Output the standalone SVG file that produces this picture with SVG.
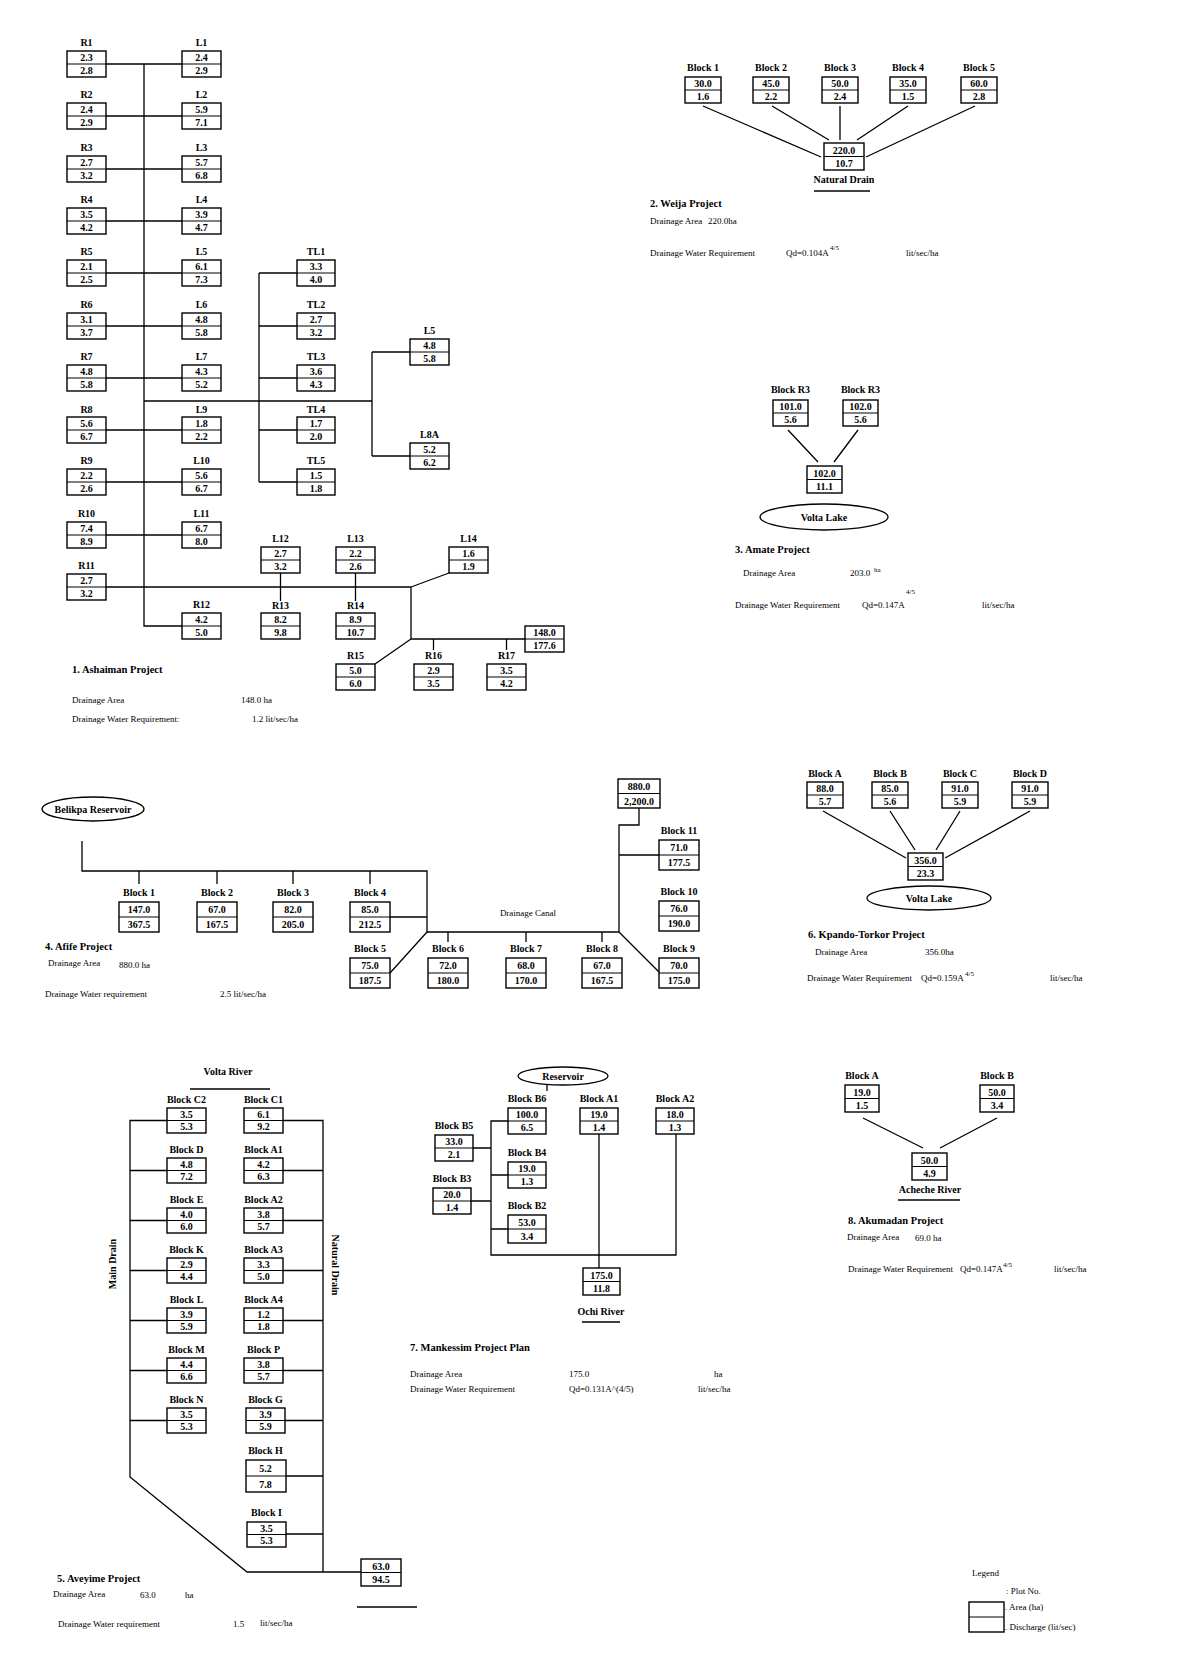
<svg xmlns="http://www.w3.org/2000/svg" width="1184" height="1672" viewBox="0 0 1184 1672">
<style>
.bx{fill:#fff;stroke:#000;stroke-width:1.4}
.dv{stroke:#000;stroke-width:1}
.v{font-family:"Liberation Serif",serif;font-size:10px;font-weight:bold;text-anchor:middle}
.lb{font-family:"Liberation Serif",serif;font-size:10px;font-weight:bold;text-anchor:middle}
.t{font-family:"Liberation Serif",serif;font-size:9px}
.tt{font-family:"Liberation Serif",serif;font-size:10.5px;font-weight:bold}
.c{text-anchor:middle}
.sup{font-family:"Liberation Serif",serif;font-size:7px}
.ln{stroke:#000;stroke-width:1.3;fill:none}
.el{fill:#fff;stroke:#000;stroke-width:1.3}
</style>
<rect width="1184" height="1672" fill="#fff"/>

<g id="connectors">
<!-- Ashaiman -->
<path class="ln" d="M144 64V626H182"/>
<path class="ln" d="M106 64H182M106 116H182M106 169H182M106 221H182M106 273H182M106 326H182M106 378H182M106 430H182M106 482H182M106 535H182"/>
<path class="ln" d="M106 587H411"/>
<path class="ln" d="M259 273V482M259 273H297M259 326H297M259 378H297M259 430H297M259 482H297"/>
<path class="ln" d="M144 401H372M372 352V456M372 352H410M372 456H410"/>
<path class="ln" d="M280.5 573V601M355.5 573V601"/>
<path class="ln" d="M411 587L449 573M411 587V639H525M433.5 639V650M506.5 639V650M411 639L375 664"/>
<!-- Weija -->
<path class="ln" d="M703 106L821 157M772 106L829 140M840 106V140M908 106L857 140M975 106L866 157"/>
<path class="ln" d="M814 191H870"/>
<!-- Amate -->
<path class="ln" d="M788 430L818 462M858 430L834 462"/>
<!-- Afife -->
<path class="ln" d="M82 841V871H427V932H619V825H639V808"/>
<path class="ln" d="M139 871V884M217 871V884M293 871V884M370 871V884M390 917H427M390 973L427 932"/>
<path class="ln" d="M448 932V942M526 932V942M602 932V942M619 932L659 972M619 855H659"/>
<!-- Kpando -->
<path class="ln" d="M823 811L906 858M890 811L915 850M960 811L936 850M1030 811L945 858"/>
<!-- Aveyime -->
<path class="ln" d="M167 1120.5H130V1477L247 1572H361"/>
<path class="ln" d="M130 1170.5H167M130 1220.5H167M130 1270.5H167M130 1320.5H167M130 1370.5H167M130 1420.5H167"/>
<path class="ln" d="M283 1120.5H323V1572M283 1170.5H323M283 1220.5H323M283 1270.5H323M283 1320.5H323M283 1370.5H323M285 1420.5H323M286 1476H323M286 1534H323"/>
<path class="ln" d="M190 1089H270M357 1607H417"/>
<!-- Mankessim -->
<path class="ln" d="M547 1085V1091M508 1121H491V1255H676V1134M473 1148H491M491 1175H508M471 1201H491M491 1229H508M599 1134V1268"/>
<path class="ln" d="M582 1322H620"/>
<!-- Akumadan -->
<path class="ln" d="M863 1118L923 1148M997 1118L940 1148M898 1200H960"/>
</g>

<!-- ===== 1. Ashaiman ===== -->
<g id="R1"><text class="lb" x="86.5" y="46">R1</text><rect class="bx" x="67" y="51" width="39" height="26"/><line class="dv" x1="67" y1="64" x2="106" y2="64"/><text class="v" x="86.5" y="61">2.3</text><text class="v" x="86.5" y="73.5">2.8</text></g>
<g id="L1"><text class="lb" x="201.5" y="46">L1</text><rect class="bx" x="182" y="51" width="39" height="26"/><line class="dv" x1="182" y1="64" x2="221" y2="64"/><text class="v" x="201.5" y="61">2.4</text><text class="v" x="201.5" y="73.5">2.9</text></g>
<g id="R2"><text class="lb" x="86.5" y="98">R2</text><rect class="bx" x="67" y="103" width="39" height="26"/><line class="dv" x1="67" y1="116" x2="106" y2="116"/><text class="v" x="86.5" y="113">2.4</text><text class="v" x="86.5" y="125.5">2.9</text></g>
<g id="L2"><text class="lb" x="201.5" y="98">L2</text><rect class="bx" x="182" y="103" width="39" height="26"/><line class="dv" x1="182" y1="116" x2="221" y2="116"/><text class="v" x="201.5" y="113">5.9</text><text class="v" x="201.5" y="125.5">7.1</text></g>
<g id="R3"><text class="lb" x="86.5" y="151">R3</text><rect class="bx" x="67" y="156" width="39" height="26"/><line class="dv" x1="67" y1="169" x2="106" y2="169"/><text class="v" x="86.5" y="166">2.7</text><text class="v" x="86.5" y="178.5">3.2</text></g>
<g id="L3"><text class="lb" x="201.5" y="151">L3</text><rect class="bx" x="182" y="156" width="39" height="26"/><line class="dv" x1="182" y1="169" x2="221" y2="169"/><text class="v" x="201.5" y="166">5.7</text><text class="v" x="201.5" y="178.5">6.8</text></g>
<g id="R4"><text class="lb" x="86.5" y="203">R4</text><rect class="bx" x="67" y="208" width="39" height="26"/><line class="dv" x1="67" y1="221" x2="106" y2="221"/><text class="v" x="86.5" y="218">3.5</text><text class="v" x="86.5" y="230.5">4.2</text></g>
<g id="L4"><text class="lb" x="201.5" y="203">L4</text><rect class="bx" x="182" y="208" width="39" height="26"/><line class="dv" x1="182" y1="221" x2="221" y2="221"/><text class="v" x="201.5" y="218">3.9</text><text class="v" x="201.5" y="230.5">4.7</text></g>
<g id="R5"><text class="lb" x="86.5" y="255">R5</text><rect class="bx" x="67" y="260" width="39" height="26"/><line class="dv" x1="67" y1="273" x2="106" y2="273"/><text class="v" x="86.5" y="270">2.1</text><text class="v" x="86.5" y="282.5">2.5</text></g>
<g id="L5"><text class="lb" x="201.5" y="255">L5</text><rect class="bx" x="182" y="260" width="39" height="26"/><line class="dv" x1="182" y1="273" x2="221" y2="273"/><text class="v" x="201.5" y="270">6.1</text><text class="v" x="201.5" y="282.5">7.3</text></g>
<g id="R6"><text class="lb" x="86.5" y="308">R6</text><rect class="bx" x="67" y="313" width="39" height="26"/><line class="dv" x1="67" y1="326" x2="106" y2="326"/><text class="v" x="86.5" y="323">3.1</text><text class="v" x="86.5" y="335.5">3.7</text></g>
<g id="L6"><text class="lb" x="201.5" y="308">L6</text><rect class="bx" x="182" y="313" width="39" height="26"/><line class="dv" x1="182" y1="326" x2="221" y2="326"/><text class="v" x="201.5" y="323">4.8</text><text class="v" x="201.5" y="335.5">5.8</text></g>
<g id="R7"><text class="lb" x="86.5" y="360">R7</text><rect class="bx" x="67" y="365" width="39" height="26"/><line class="dv" x1="67" y1="378" x2="106" y2="378"/><text class="v" x="86.5" y="375">4.8</text><text class="v" x="86.5" y="387.5">5.8</text></g>
<g id="L7"><text class="lb" x="201.5" y="360">L7</text><rect class="bx" x="182" y="365" width="39" height="26"/><line class="dv" x1="182" y1="378" x2="221" y2="378"/><text class="v" x="201.5" y="375">4.3</text><text class="v" x="201.5" y="387.5">5.2</text></g>
<g id="R8"><text class="lb" x="86.5" y="413">R8</text><rect class="bx" x="67" y="417" width="39" height="26"/><line class="dv" x1="67" y1="430" x2="106" y2="430"/><text class="v" x="86.5" y="427">5.6</text><text class="v" x="86.5" y="439.5">6.7</text></g>
<g id="L9"><text class="lb" x="201.5" y="413">L9</text><rect class="bx" x="182" y="417" width="39" height="26"/><line class="dv" x1="182" y1="430" x2="221" y2="430"/><text class="v" x="201.5" y="427">1.8</text><text class="v" x="201.5" y="439.5">2.2</text></g>
<g id="R9"><text class="lb" x="86.5" y="464">R9</text><rect class="bx" x="67" y="469" width="39" height="26"/><line class="dv" x1="67" y1="482" x2="106" y2="482"/><text class="v" x="86.5" y="479">2.2</text><text class="v" x="86.5" y="491.5">2.6</text></g>
<g id="L10"><text class="lb" x="201.5" y="464">L10</text><rect class="bx" x="182" y="469" width="39" height="26"/><line class="dv" x1="182" y1="482" x2="221" y2="482"/><text class="v" x="201.5" y="479">5.6</text><text class="v" x="201.5" y="491.5">6.7</text></g>
<g id="R10"><text class="lb" x="86.5" y="517">R10</text><rect class="bx" x="67" y="522" width="39" height="26"/><line class="dv" x1="67" y1="535" x2="106" y2="535"/><text class="v" x="86.5" y="532">7.4</text><text class="v" x="86.5" y="544.5">8.9</text></g>
<g id="L11"><text class="lb" x="201.5" y="517">L11</text><rect class="bx" x="182" y="522" width="39" height="26"/><line class="dv" x1="182" y1="535" x2="221" y2="535"/><text class="v" x="201.5" y="532">6.7</text><text class="v" x="201.5" y="544.5">8.0</text></g>
<g id="R11"><text class="lb" x="86.5" y="569">R11</text><rect class="bx" x="67" y="574" width="39" height="26"/><line class="dv" x1="67" y1="587" x2="106" y2="587"/><text class="v" x="86.5" y="584">2.7</text><text class="v" x="86.5" y="596.5">3.2</text></g>
<g id="R12"><text class="lb" x="201.5" y="608">R12</text><rect class="bx" x="182" y="613" width="39" height="26"/><line class="dv" x1="182" y1="626" x2="221" y2="626"/><text class="v" x="201.5" y="623">4.2</text><text class="v" x="201.5" y="635.5">5.0</text></g>
<g id="TL1"><text class="lb" x="316" y="255">TL1</text><rect class="bx" x="297" y="260" width="38" height="26"/><line class="dv" x1="297" y1="273" x2="335" y2="273"/><text class="v" x="316" y="270">3.3</text><text class="v" x="316" y="282.5">4.0</text></g>
<g id="TL2"><text class="lb" x="316" y="308">TL2</text><rect class="bx" x="297" y="313" width="38" height="26"/><line class="dv" x1="297" y1="326" x2="335" y2="326"/><text class="v" x="316" y="323">2.7</text><text class="v" x="316" y="335.5">3.2</text></g>
<g id="TL3"><text class="lb" x="316" y="360">TL3</text><rect class="bx" x="297" y="365" width="38" height="26"/><line class="dv" x1="297" y1="378" x2="335" y2="378"/><text class="v" x="316" y="375">3.6</text><text class="v" x="316" y="387.5">4.3</text></g>
<g id="TL4"><text class="lb" x="316" y="413">TL4</text><rect class="bx" x="297" y="417" width="38" height="26"/><line class="dv" x1="297" y1="430" x2="335" y2="430"/><text class="v" x="316" y="427">1.7</text><text class="v" x="316" y="439.5">2.0</text></g>
<g id="TL5"><text class="lb" x="316" y="464">TL5</text><rect class="bx" x="297" y="469" width="38" height="26"/><line class="dv" x1="297" y1="482" x2="335" y2="482"/><text class="v" x="316" y="479">1.5</text><text class="v" x="316" y="491.5">1.8</text></g>
<g id="L5b"><text class="lb" x="429.5" y="334">L5</text><rect class="bx" x="410" y="339" width="39" height="26"/><line class="dv" x1="410" y1="352" x2="449" y2="352"/><text class="v" x="429.5" y="349">4.8</text><text class="v" x="429.5" y="361.5">5.8</text></g>
<g id="L8A"><text class="lb" x="429.5" y="438">L8A</text><rect class="bx" x="410" y="443" width="39" height="26"/><line class="dv" x1="410" y1="456" x2="449" y2="456"/><text class="v" x="429.5" y="453">5.2</text><text class="v" x="429.5" y="465.5">6.2</text></g>
<g id="L12"><text class="lb" x="280.5" y="542">L12</text><rect class="bx" x="261" y="547" width="39" height="26"/><line class="dv" x1="261" y1="560" x2="300" y2="560"/><text class="v" x="280.5" y="557">2.7</text><text class="v" x="280.5" y="569.5">3.2</text></g>
<g id="L13"><text class="lb" x="355.5" y="542">L13</text><rect class="bx" x="336" y="547" width="39" height="26"/><line class="dv" x1="336" y1="560" x2="375" y2="560"/><text class="v" x="355.5" y="557">2.2</text><text class="v" x="355.5" y="569.5">2.6</text></g>
<g id="L14"><text class="lb" x="468.5" y="542">L14</text><rect class="bx" x="449" y="547" width="39" height="26"/><line class="dv" x1="449" y1="560" x2="488" y2="560"/><text class="v" x="468.5" y="557">1.6</text><text class="v" x="468.5" y="569.5">1.9</text></g>
<g id="R13"><text class="lb" x="280.5" y="609">R13</text><rect class="bx" x="261" y="613" width="39" height="26"/><line class="dv" x1="261" y1="626" x2="300" y2="626"/><text class="v" x="280.5" y="623">8.2</text><text class="v" x="280.5" y="635.5">9.8</text></g>
<g id="R14"><text class="lb" x="355.5" y="609">R14</text><rect class="bx" x="336" y="613" width="39" height="26"/><line class="dv" x1="336" y1="626" x2="375" y2="626"/><text class="v" x="355.5" y="623">8.9</text><text class="v" x="355.5" y="635.5">10.7</text></g>
<g id="R15"><text class="lb" x="355.5" y="659">R15</text><rect class="bx" x="336" y="664" width="39" height="26"/><line class="dv" x1="336" y1="677" x2="375" y2="677"/><text class="v" x="355.5" y="674">5.0</text><text class="v" x="355.5" y="686.5">6.0</text></g>
<g id="R16"><text class="lb" x="433.5" y="659">R16</text><rect class="bx" x="414" y="664" width="39" height="26"/><line class="dv" x1="414" y1="677" x2="453" y2="677"/><text class="v" x="433.5" y="674">2.9</text><text class="v" x="433.5" y="686.5">3.5</text></g>
<g id="R17"><text class="lb" x="506.5" y="659">R17</text><rect class="bx" x="487" y="664" width="39" height="26"/><line class="dv" x1="487" y1="677" x2="526" y2="677"/><text class="v" x="506.5" y="674">3.5</text><text class="v" x="506.5" y="686.5">4.2</text></g>
<g id="A148"><rect class="bx" x="525" y="626" width="39" height="26"/><line class="dv" x1="525" y1="639" x2="564" y2="639"/><text class="v" x="544.5" y="636">148.0</text><text class="v" x="544.5" y="648.5">177.6</text></g>
<g id="ashaiman-text">
<text class="tt" x="72" y="673">1. Ashaiman Project</text>
<text class="t" x="72" y="703">Drainage Area</text><text class="t" x="241" y="703">148.0 ha</text>
<text class="t" x="72" y="722">Drainage Water Requirement:</text><text class="t" x="252" y="722">1.2  lit/sec/ha</text>
</g>

<!-- ===== 2. Weija ===== -->
<g id="W1"><text class="lb" x="703" y="71">Block 1</text><rect class="bx" x="685" y="77" width="36" height="26"/><line class="dv" x1="685" y1="90" x2="721" y2="90"/><text class="v" x="703" y="87">30.0</text><text class="v" x="703" y="99.5">1.6</text></g>
<g id="W2"><text class="lb" x="771" y="71">Block 2</text><rect class="bx" x="753" y="77" width="36" height="26"/><line class="dv" x1="753" y1="90" x2="789" y2="90"/><text class="v" x="771" y="87">45.0</text><text class="v" x="771" y="99.5">2.2</text></g>
<g id="W3"><text class="lb" x="840" y="71">Block 3</text><rect class="bx" x="822" y="77" width="36" height="26"/><line class="dv" x1="822" y1="90" x2="858" y2="90"/><text class="v" x="840" y="87">50.0</text><text class="v" x="840" y="99.5">2.4</text></g>
<g id="W4"><text class="lb" x="908" y="71">Block 4</text><rect class="bx" x="890" y="77" width="36" height="26"/><line class="dv" x1="890" y1="90" x2="926" y2="90"/><text class="v" x="908" y="87">35.0</text><text class="v" x="908" y="99.5">1.5</text></g>
<g id="W5"><text class="lb" x="979" y="71">Block 5</text><rect class="bx" x="961" y="77" width="36" height="26"/><line class="dv" x1="961" y1="90" x2="997" y2="90"/><text class="v" x="979" y="87">60.0</text><text class="v" x="979" y="99.5">2.8</text></g>
<g id="W0"><rect class="bx" x="824" y="143" width="40" height="27"/><line class="dv" x1="824" y1="156.5" x2="864" y2="156.5"/><text class="v" x="844" y="153.5">220.0</text><text class="v" x="844" y="167">10.7</text><text class="lb" x="844" y="183">Natural Drain</text></g>
<g id="weija-text">
<text class="tt" x="650" y="207">2. Weija Project</text>
<text class="t" x="650" y="224">Drainage Area</text><text class="t" x="708" y="224">220.0ha</text>
<text class="t" x="650" y="256">Drainage Water Requirement</text><text class="t" x="786" y="256">Qd=0.104A</text><text class="sup" x="830" y="250">4/5</text><text class="t" x="906" y="256">lit/sec/ha</text>
</g>

<!-- ===== 3. Amate ===== -->
<g id="AM1"><text class="lb" x="790.5" y="393">Block R3</text><rect class="bx" x="773" y="400" width="35" height="26"/><line class="dv" x1="773" y1="413" x2="808" y2="413"/><text class="v" x="790.5" y="410">101.0</text><text class="v" x="790.5" y="422.5">5.6</text></g>
<g id="AM2"><text class="lb" x="860.5" y="393">Block R3</text><rect class="bx" x="843" y="400" width="35" height="26"/><line class="dv" x1="843" y1="413" x2="878" y2="413"/><text class="v" x="860.5" y="410">102.0</text><text class="v" x="860.5" y="422.5">5.6</text></g>
<g id="AM0"><rect class="bx" x="807" y="466" width="35" height="27"/><line class="dv" x1="807" y1="479.5" x2="842" y2="479.5"/><text class="v" x="824.5" y="476.5">102.0</text><text class="v" x="824.5" y="490">11.1</text></g>
<g id="volta-lake-1"><ellipse class="el" cx="824" cy="517" rx="64" ry="13"/><text class="lb" x="824" y="520.5">Volta Lake</text></g>
<g id="amate-text">
<text class="tt" x="735" y="553">3. Amate Project</text>
<text class="t" x="743" y="576">Drainage Area</text><text class="t" x="850" y="576">203.0</text><text class="sup" x="874" y="572">ha</text>
<text class="t" x="735" y="608">Drainage Water Requirement</text><text class="t" x="862" y="608">Qd=0.147A</text><text class="sup" x="906" y="594">4/5</text><text class="t" x="982" y="608">lit/sec/ha</text>
</g>

<!-- ===== 4. Afife ===== -->
<g id="belikpa"><ellipse class="el" cx="93" cy="809" rx="51" ry="12"/><text class="lb" x="93" y="812.5">Belikpa Reservoir</text></g>
<g id="AF1"><text class="lb" x="139" y="896">Block 1</text><rect class="bx" x="119" y="902" width="40" height="30"/><line class="dv" x1="119" y1="917" x2="159" y2="917"/><text class="v" x="139" y="913">147.0</text><text class="v" x="139" y="928">367.5</text></g>
<g id="AF2"><text class="lb" x="217" y="896">Block 2</text><rect class="bx" x="197" y="902" width="40" height="30"/><line class="dv" x1="197" y1="917" x2="237" y2="917"/><text class="v" x="217" y="913">67.0</text><text class="v" x="217" y="928">167.5</text></g>
<g id="AF3"><text class="lb" x="293" y="896">Block 3</text><rect class="bx" x="273" y="902" width="40" height="30"/><line class="dv" x1="273" y1="917" x2="313" y2="917"/><text class="v" x="293" y="913">82.0</text><text class="v" x="293" y="928">205.0</text></g>
<g id="AF4"><text class="lb" x="370" y="896">Block 4</text><rect class="bx" x="350" y="902" width="40" height="30"/><line class="dv" x1="350" y1="917" x2="390" y2="917"/><text class="v" x="370" y="913">85.0</text><text class="v" x="370" y="928">212.5</text></g>
<g id="AF5"><text class="lb" x="370" y="952">Block 5</text><rect class="bx" x="350" y="958" width="40" height="30"/><line class="dv" x1="350" y1="973" x2="390" y2="973"/><text class="v" x="370" y="969">75.0</text><text class="v" x="370" y="984">187.5</text></g>
<g id="AF6"><text class="lb" x="448" y="952">Block 6</text><rect class="bx" x="428" y="958" width="40" height="30"/><line class="dv" x1="428" y1="973" x2="468" y2="973"/><text class="v" x="448" y="969">72.0</text><text class="v" x="448" y="984">180.0</text></g>
<g id="AF7"><text class="lb" x="526" y="952">Block 7</text><rect class="bx" x="506" y="958" width="40" height="30"/><line class="dv" x1="506" y1="973" x2="546" y2="973"/><text class="v" x="526" y="969">68.0</text><text class="v" x="526" y="984">170.0</text></g>
<g id="AF8"><text class="lb" x="602" y="952">Block 8</text><rect class="bx" x="582" y="958" width="40" height="30"/><line class="dv" x1="582" y1="973" x2="622" y2="973"/><text class="v" x="602" y="969">67.0</text><text class="v" x="602" y="984">167.5</text></g>
<g id="AF9"><text class="lb" x="679" y="952">Block 9</text><rect class="bx" x="659" y="958" width="40" height="30"/><line class="dv" x1="659" y1="973" x2="699" y2="973"/><text class="v" x="679" y="969">70.0</text><text class="v" x="679" y="984">175.0</text></g>
<g id="AF10"><text class="lb" x="679" y="895">Block 10</text><rect class="bx" x="659" y="901" width="40" height="30"/><line class="dv" x1="659" y1="916" x2="699" y2="916"/><text class="v" x="679" y="912">76.0</text><text class="v" x="679" y="927">190.0</text></g>
<g id="AF11"><text class="lb" x="679" y="834">Block 11</text><rect class="bx" x="659" y="840" width="40" height="30"/><line class="dv" x1="659" y1="855" x2="699" y2="855"/><text class="v" x="679" y="851">71.0</text><text class="v" x="679" y="866">177.5</text></g>
<g id="AF0"><rect class="bx" x="618" y="779" width="42" height="29"/><line class="dv" x1="618" y1="793.5" x2="660" y2="793.5"/><text class="v" x="639" y="790">880.0</text><text class="v" x="639" y="804.5">2,200.0</text></g>
<g id="afife-text">
<text class="t c" x="528" y="916">Drainage Canal</text>
<text class="tt" x="45" y="950">4. Afife Project</text>
<text class="t" x="48" y="966">Drainage Area</text><text class="t" x="119" y="968">880.0  ha</text>
<text class="t" x="45" y="997">Drainage Water requirement</text><text class="t" x="220" y="997">2.5  lit/sec/ha</text>
</g>

<!-- ===== 6. Kpando-Torkor ===== -->
<g id="KA"><text class="lb" x="825" y="777">Block A</text><rect class="bx" x="807" y="782" width="36" height="26"/><line class="dv" x1="807" y1="795" x2="843" y2="795"/><text class="v" x="825" y="792">88.0</text><text class="v" x="825" y="804.5">5.7</text></g>
<g id="KB"><text class="lb" x="890" y="777">Block B</text><rect class="bx" x="872" y="782" width="36" height="26"/><line class="dv" x1="872" y1="795" x2="908" y2="795"/><text class="v" x="890" y="792">85.0</text><text class="v" x="890" y="804.5">5.6</text></g>
<g id="KC"><text class="lb" x="960" y="777">Block C</text><rect class="bx" x="942" y="782" width="36" height="26"/><line class="dv" x1="942" y1="795" x2="978" y2="795"/><text class="v" x="960" y="792">91.0</text><text class="v" x="960" y="804.5">5.9</text></g>
<g id="KD"><text class="lb" x="1030" y="777">Block D</text><rect class="bx" x="1012" y="782" width="36" height="26"/><line class="dv" x1="1012" y1="795" x2="1048" y2="795"/><text class="v" x="1030" y="792">91.0</text><text class="v" x="1030" y="804.5">5.9</text></g>
<g id="K0"><rect class="bx" x="908" y="853" width="35" height="27"/><line class="dv" x1="908" y1="866.5" x2="943" y2="866.5"/><text class="v" x="925.5" y="863.5">356.0</text><text class="v" x="925.5" y="877">23.3</text></g>
<g id="volta-lake-2"><ellipse class="el" cx="929" cy="898" rx="62" ry="12"/><text class="lb" x="929" y="901.5">Volta Lake</text></g>
<g id="kpando-text">
<text class="tt" x="808" y="938">6. Kpando-Torkor Project</text>
<text class="t" x="815" y="955">Drainage Area</text><text class="t" x="925" y="955">356.0ha</text>
<text class="t" x="807" y="981">Drainage Water Requirement</text><text class="t" x="921" y="981">Qd=0.159A</text><text class="sup" x="965" y="976">4/5</text><text class="t" x="1050" y="981">lit/sec/ha</text>
</g>

<!-- ===== 5. Aveyime ===== -->
<g id="aveyime-labels">
<text class="lb" x="228" y="1075">Volta River</text>
<text class="lb" transform="translate(116 1264) rotate(-90)">Main Drain</text>
<text class="lb" transform="translate(332 1265) rotate(90)">Natural Drain</text>
</g>
<g id="AVC2"><text class="lb" x="186.5" y="1103">Block C2</text><rect class="bx" x="167" y="1108" width="39" height="25"/><line class="dv" x1="167" y1="1120.5" x2="206" y2="1120.5"/><text class="v" x="186.5" y="1118">3.5</text><text class="v" x="186.5" y="1130">5.3</text></g>
<g id="AVC1"><text class="lb" x="263.5" y="1103">Block C1</text><rect class="bx" x="244" y="1108" width="39" height="25"/><line class="dv" x1="244" y1="1120.5" x2="283" y2="1120.5"/><text class="v" x="263.5" y="1118">6.1</text><text class="v" x="263.5" y="1130">9.2</text></g>
<g id="AVD"><text class="lb" x="186.5" y="1153">Block D</text><rect class="bx" x="167" y="1158" width="39" height="25"/><line class="dv" x1="167" y1="1170.5" x2="206" y2="1170.5"/><text class="v" x="186.5" y="1168">4.8</text><text class="v" x="186.5" y="1180">7.2</text></g>
<g id="AVA1"><text class="lb" x="263.5" y="1153">Block A1</text><rect class="bx" x="244" y="1158" width="39" height="25"/><line class="dv" x1="244" y1="1170.5" x2="283" y2="1170.5"/><text class="v" x="263.5" y="1168">4.2</text><text class="v" x="263.5" y="1180">6.3</text></g>
<g id="AVE"><text class="lb" x="186.5" y="1203">Block E</text><rect class="bx" x="167" y="1208" width="39" height="25"/><line class="dv" x1="167" y1="1220.5" x2="206" y2="1220.5"/><text class="v" x="186.5" y="1218">4.0</text><text class="v" x="186.5" y="1230">6.0</text></g>
<g id="AVA2"><text class="lb" x="263.5" y="1203">Block A2</text><rect class="bx" x="244" y="1208" width="39" height="25"/><line class="dv" x1="244" y1="1220.5" x2="283" y2="1220.5"/><text class="v" x="263.5" y="1218">3.8</text><text class="v" x="263.5" y="1230">5.7</text></g>
<g id="AVK"><text class="lb" x="186.5" y="1253">Block K</text><rect class="bx" x="167" y="1258" width="39" height="25"/><line class="dv" x1="167" y1="1270.5" x2="206" y2="1270.5"/><text class="v" x="186.5" y="1268">2.9</text><text class="v" x="186.5" y="1280">4.4</text></g>
<g id="AVA3"><text class="lb" x="263.5" y="1253">Block A3</text><rect class="bx" x="244" y="1258" width="39" height="25"/><line class="dv" x1="244" y1="1270.5" x2="283" y2="1270.5"/><text class="v" x="263.5" y="1268">3.3</text><text class="v" x="263.5" y="1280">5.0</text></g>
<g id="AVL"><text class="lb" x="186.5" y="1303">Block L</text><rect class="bx" x="167" y="1308" width="39" height="25"/><line class="dv" x1="167" y1="1320.5" x2="206" y2="1320.5"/><text class="v" x="186.5" y="1318">3.9</text><text class="v" x="186.5" y="1330">5.9</text></g>
<g id="AVA4"><text class="lb" x="263.5" y="1303">Block A4</text><rect class="bx" x="244" y="1308" width="39" height="25"/><line class="dv" x1="244" y1="1320.5" x2="283" y2="1320.5"/><text class="v" x="263.5" y="1318">1.2</text><text class="v" x="263.5" y="1330">1.8</text></g>
<g id="AVM"><text class="lb" x="186.5" y="1353">Block M</text><rect class="bx" x="167" y="1358" width="39" height="25"/><line class="dv" x1="167" y1="1370.5" x2="206" y2="1370.5"/><text class="v" x="186.5" y="1368">4.4</text><text class="v" x="186.5" y="1380">6.6</text></g>
<g id="AVP"><text class="lb" x="263.5" y="1353">Block P</text><rect class="bx" x="244" y="1358" width="39" height="25"/><line class="dv" x1="244" y1="1370.5" x2="283" y2="1370.5"/><text class="v" x="263.5" y="1368">3.8</text><text class="v" x="263.5" y="1380">5.7</text></g>
<g id="AVN"><text class="lb" x="186.5" y="1403">Block N</text><rect class="bx" x="167" y="1408" width="39" height="25"/><line class="dv" x1="167" y1="1420.5" x2="206" y2="1420.5"/><text class="v" x="186.5" y="1418">3.5</text><text class="v" x="186.5" y="1430">5.3</text></g>
<g id="AVG"><text class="lb" x="265.5" y="1403">Block G</text><rect class="bx" x="246" y="1408" width="39" height="25"/><line class="dv" x1="246" y1="1420.5" x2="285" y2="1420.5"/><text class="v" x="265.5" y="1418">3.9</text><text class="v" x="265.5" y="1430">5.9</text></g>
<g id="AVH"><text class="lb" x="265.5" y="1454">Block H</text><rect class="bx" x="246" y="1460" width="40" height="32"/><line class="dv" x1="246" y1="1476" x2="286" y2="1476"/><text class="v" x="265.5" y="1472">5.2</text><text class="v" x="265.5" y="1488">7.8</text></g>
<g id="AVI"><text class="lb" x="266.5" y="1516">Block I</text><rect class="bx" x="247" y="1522" width="39" height="25"/><line class="dv" x1="247" y1="1534.5" x2="286" y2="1534.5"/><text class="v" x="266.5" y="1532">3.5</text><text class="v" x="266.5" y="1544">5.3</text></g>
<g id="AV0"><rect class="bx" x="361" y="1559" width="40" height="27"/><line class="dv" x1="361" y1="1572.5" x2="401" y2="1572.5"/><text class="v" x="381" y="1569.5">63.0</text><text class="v" x="381" y="1583">94.5</text></g>
<g id="aveyime-text">
<text class="tt" x="57" y="1582">5. Aveyime Project</text>
<text class="t" x="53" y="1597">Drainage Area</text><text class="t" x="140" y="1598">63.0</text><text class="t" x="185" y="1598">ha</text>
<text class="t" x="58" y="1627">Drainage Water requirement</text><text class="t" x="233" y="1627">1.5</text><text class="t" x="260" y="1626">lit/sec/ha</text>
</g>

<!-- ===== 7. Mankessim ===== -->
<g id="reservoir"><ellipse class="el" cx="563" cy="1076" rx="45" ry="9"/><text class="lb" x="563" y="1079.5">Reservoir</text></g>
<g id="MB6"><text class="lb" x="527" y="1102">Block B6</text><rect class="bx" x="508" y="1108" width="38" height="26"/><line class="dv" x1="508" y1="1121" x2="546" y2="1121"/><text class="v" x="527" y="1118">100.0</text><text class="v" x="527" y="1130.5">6.5</text></g>
<g id="MA1"><text class="lb" x="599" y="1102">Block A1</text><rect class="bx" x="580" y="1108" width="38" height="26"/><line class="dv" x1="580" y1="1121" x2="618" y2="1121"/><text class="v" x="599" y="1118">19.0</text><text class="v" x="599" y="1130.5">1.4</text></g>
<g id="MA2"><text class="lb" x="675" y="1102">Block A2</text><rect class="bx" x="656" y="1108" width="38" height="26"/><line class="dv" x1="656" y1="1121" x2="694" y2="1121"/><text class="v" x="675" y="1118">18.0</text><text class="v" x="675" y="1130.5">1.3</text></g>
<g id="MB5"><text class="lb" x="454" y="1129">Block B5</text><rect class="bx" x="435" y="1135" width="38" height="26"/><line class="dv" x1="435" y1="1148" x2="473" y2="1148"/><text class="v" x="454" y="1145">33.0</text><text class="v" x="454" y="1157.5">2.1</text></g>
<g id="MB4"><text class="lb" x="527" y="1156">Block B4</text><rect class="bx" x="508" y="1162" width="38" height="26"/><line class="dv" x1="508" y1="1175" x2="546" y2="1175"/><text class="v" x="527" y="1172">19.0</text><text class="v" x="527" y="1184.5">1.3</text></g>
<g id="MB3"><text class="lb" x="452" y="1182">Block B3</text><rect class="bx" x="433" y="1188" width="38" height="26"/><line class="dv" x1="433" y1="1201" x2="471" y2="1201"/><text class="v" x="452" y="1198">20.0</text><text class="v" x="452" y="1210.5">1.4</text></g>
<g id="MB2"><text class="lb" x="527" y="1209">Block B2</text><rect class="bx" x="508" y="1215" width="38" height="28"/><line class="dv" x1="508" y1="1229" x2="546" y2="1229"/><text class="v" x="527" y="1226">53.0</text><text class="v" x="527" y="1239.5">3.4</text></g>
<g id="M0"><rect class="bx" x="583" y="1268" width="37" height="27"/><line class="dv" x1="583" y1="1281.5" x2="620" y2="1281.5"/><text class="v" x="601.5" y="1278.5">175.0</text><text class="v" x="601.5" y="1292">11.8</text><text class="lb" x="601" y="1315">Ochi River</text></g>
<g id="mankessim-text">
<text class="tt" x="410" y="1351">7. Mankessim Project Plan</text>
<text class="t" x="410" y="1377">Drainage Area</text><text class="t" x="569" y="1377">175.0</text><text class="t" x="714" y="1377">ha</text>
<text class="t" x="410" y="1392">Drainage Water Requirement</text><text class="t" x="569" y="1392">Qd=0.131A^(4/5)</text><text class="t" x="698" y="1392">lit/sec/ha</text>
</g>

<!-- ===== 8. Akumadan ===== -->
<g id="KKA"><text class="lb" x="862" y="1079">Block A</text><rect class="bx" x="845" y="1085" width="34" height="27"/><line class="dv" x1="845" y1="1098.5" x2="879" y2="1098.5"/><text class="v" x="862" y="1095.5">19.0</text><text class="v" x="862" y="1109">1.5</text></g>
<g id="KKB"><text class="lb" x="997" y="1079">Block B</text><rect class="bx" x="980" y="1085" width="34" height="27"/><line class="dv" x1="980" y1="1098.5" x2="1014" y2="1098.5"/><text class="v" x="997" y="1095.5">50.0</text><text class="v" x="997" y="1109">3.4</text></g>
<g id="KK0"><rect class="bx" x="912" y="1153" width="35" height="27"/><line class="dv" x1="912" y1="1166.5" x2="947" y2="1166.5"/><text class="v" x="929.5" y="1163.5">50.0</text><text class="v" x="929.5" y="1177">4.9</text><text class="lb" x="930" y="1193">Acheche River</text></g>
<g id="akumadan-text">
<text class="tt" x="848" y="1224">8. Akumadan Project</text>
<text class="t" x="847" y="1240">Drainage Area</text><text class="t" x="915" y="1241">69.0 ha</text>
<text class="t" x="848" y="1272">Drainage Water Requirement</text><text class="t" x="960" y="1272">Qd=0.147A</text><text class="sup" x="1003" y="1267">4/5</text><text class="t" x="1054" y="1272">lit/sec/ha</text>
</g>

<!-- ===== Legend ===== -->
<g id="legend">
<text class="t" x="972" y="1576">Legend</text>
<text class="t" x="1006" y="1594">: Plot No.</text>
<rect class="bx" x="969" y="1602" width="35" height="30"/><line class="dv" x1="969" y1="1617" x2="1004" y2="1617"/>
<text class="t" x="1005" y="1610">. Area (ha)</text>
<text class="t" x="1005" y="1630">. Discharge (lit/sec)</text>
</g>
</svg>
